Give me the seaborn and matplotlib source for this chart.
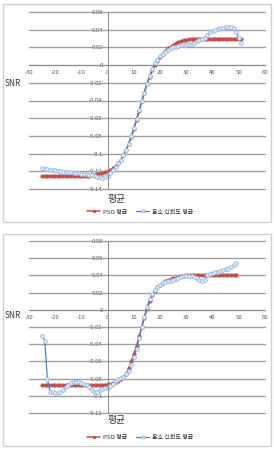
import numpy as np
import pandas as pd
import matplotlib
matplotlib.use("Agg")
import matplotlib.pyplot as plt
from matplotlib.patches import Rectangle
import seaborn as sns

# ============================================================
# 데이터
# ============================================================

top_x = list(range(-25, 52))
top_pso = [
    -0.125, -0.125, -0.125, -0.125, -0.125, -0.125, -0.125, -0.125, -0.125, -0.125,
    -0.125, -0.125, -0.125, -0.125, -0.125, -0.125, -0.125, -0.125, -0.125, -0.1245,
    -0.124, -0.1235, -0.123, -0.1222, -0.1213, -0.120, -0.1185, -0.1165, -0.114, -0.111,
    -0.107, -0.102, -0.096, -0.089, -0.081, -0.072, -0.062, -0.052, -0.041, -0.031,
    -0.021, -0.013, -0.006, 0.000, 0.005, 0.009, 0.013, 0.016, 0.019, 0.021,
    0.023, 0.0245, 0.026, 0.027, 0.028, 0.0285, 0.029, 0.0295, 0.0298, 0.030,
    0.030, 0.030, 0.030, 0.030, 0.030, 0.030, 0.030, 0.030, 0.030, 0.030,
    0.030, 0.030, 0.030, 0.030, 0.030, 0.030, 0.030,
]
top_phone = [
    -0.116, -0.117, -0.1175, -0.118, -0.1185, -0.119, -0.1195, -0.120, -0.1203, -0.1206,
    -0.121, -0.1213, -0.1216, -0.122, -0.1223, -0.1226, -0.123, -0.1235, -0.124, -0.1245,
    -0.125, -0.126, -0.127, -0.1272, -0.1265, -0.125, -0.122, -0.119, -0.115, -0.111,
    -0.107, -0.102, -0.096, -0.089, -0.080, -0.071, -0.061, -0.051, -0.041, -0.031,
    -0.021, -0.012, -0.004, 0.002, 0.006, 0.010, 0.013, 0.015, 0.017, 0.019,
    0.020, 0.021, 0.022, 0.0225, 0.023, 0.0232, 0.0235, 0.024, 0.025, 0.027,
    0.028, 0.029, 0.031, 0.034, 0.037, 0.039, 0.040, 0.041, 0.0415, 0.042,
    0.0425, 0.043, 0.043, 0.0415, 0.037, 0.031, 0.025,
]

bot_x = list(range(-25, 50))
bot_pso = [
    -0.088, -0.088, -0.088, -0.088, -0.088, -0.088, -0.088, -0.088, -0.088, -0.088,
    -0.088, -0.088, -0.088, -0.088, -0.088, -0.088, -0.088, -0.088, -0.088, -0.088,
    -0.088, -0.0878, -0.0876, -0.0873, -0.087, -0.0867, -0.0862, -0.0855, -0.0845, -0.083,
    -0.081, -0.0785, -0.075, -0.068, -0.060, -0.051, -0.042, -0.031, -0.020, -0.009,
    0.001, 0.010, 0.017, 0.022, 0.026, 0.029, 0.031, 0.033, 0.0345, 0.0355,
    0.0365, 0.0375, 0.038, 0.0388, 0.0395, 0.040, 0.040, 0.040, 0.040, 0.040,
    0.040, 0.040, 0.040, 0.040, 0.040, 0.040, 0.040, 0.040, 0.040, 0.040,
    0.040, 0.040, 0.040, 0.040, 0.040,
]
bot_phone = [
    -0.031, -0.036, -0.080, -0.095, -0.096, -0.097, -0.097, -0.096, -0.093, -0.090,
    -0.087, -0.085, -0.084, -0.0835, -0.084, -0.085, -0.086, -0.088, -0.090, -0.093,
    -0.095, -0.095, -0.093, -0.092, -0.091, -0.091, -0.089, -0.086, -0.083, -0.081,
    -0.079, -0.078, -0.075, -0.071, -0.064, -0.055, -0.045, -0.033, -0.020, -0.008,
    0.003, 0.012, 0.018, 0.023, 0.026, 0.029, 0.031, 0.032, 0.033, 0.034,
    0.035, 0.036, 0.037, 0.038, 0.039, 0.0395, 0.0395, 0.039, 0.038, 0.037,
    0.035, 0.033, 0.035, 0.040, 0.042, 0.043, 0.044, 0.0445, 0.045, 0.046,
    0.047, 0.048, 0.050, 0.052, 0.054,
]

series_names = ["PSO 평균", "음소 신뢰도 평균"]
x_ticks = list(range(-30, 61, 10))
top_y_ticks = [0.06, 0.04, 0.02, 0, -0.02, -0.04, -0.06, -0.08, -0.1, -0.12, -0.14]
bot_y_ticks = [0.08, 0.06, 0.04, 0.02, 0, -0.02, -0.04, -0.06, -0.08, -0.1, -0.12]

# ============================================================
# 기본 설정
# ============================================================

sns.set_style("white")
plt.rcParams["font.family"] = ["Noto Sans CJK KR", "DejaVu Sans"]
plt.rcParams["axes.unicode_minus"] = False

W, H = 274, 453
fig = plt.figure(figsize=(W / 100, H / 100), dpi=100)

RED = "#C0504D"
BLUE = "#4F81BD"
GRID = "#A0A0A0"


def px_rect(x0, y0, x1, y1):
    return [x0 / W, 1 - y1 / H, (x1 - x0) / W, (y1 - y0) / H]


def draw_panel(rect, box, x, pso, phone, yticks, snr_y, avg_y, leg_y):
    # 바깥 테두리
    fig.patches.append(Rectangle((box[0] / W, 1 - box[3] / H),
                                 (box[2] - box[0]) / W, (box[3] - box[1]) / H,
                                 transform=fig.transFigure, fill=False,
                                 edgecolor="#D0D0D0", linewidth=1.0))

    ax = fig.add_axes(rect)
    df = pd.DataFrame({"x": x, "pso": pso, "phone": phone})

    sns.lineplot(data=df, x="x", y="pso", ax=ax, color=RED, linewidth=1.1,
                 marker="o", markersize=2.5, markerfacecolor=RED,
                 markeredgecolor=RED, markeredgewidth=0.4, label=series_names[0])
    sns.lineplot(data=df, x="x", y="phone", ax=ax, color=BLUE, linewidth=0.9,
                 marker="o", markersize=2.7, markerfacecolor="#E3ECF7",
                 markeredgecolor="#95B8E0", markeredgewidth=0.6,
                 label=series_names[1])

    ax.set_xlim(-30, 60)
    ax.set_ylim(min(yticks), max(yticks))
    ax.set_xticks(x_ticks)
    ax.set_yticks(yticks)
    ax.set_xticklabels([f"{t:g}" for t in x_ticks])
    ax.set_yticklabels([f"{t:g}" for t in yticks])
    ax.grid(False)

    # 가로 눈금선
    for t in yticks:
        ax.axhline(t, color=GRID, linewidth=1.0, zorder=1, clip_on=False)

    for s in ["top", "right"]:
        ax.spines[s].set_visible(False)
    ax.spines["bottom"].set_position(("data", 0))
    ax.spines["left"].set_position(("data", 0))
    ax.spines["bottom"].set_color("#8C8C8C")
    ax.spines["left"].set_color("#8C8C8C")
    ax.spines["bottom"].set_linewidth(0.7)
    ax.spines["left"].set_linewidth(0.7)
    ax.tick_params(axis="both", labelsize=4.3, colors="#8C8C8C",
                   labelcolor="#555555", length=2, width=0.5, pad=1.5,
                   direction="out")
    ax.set_xlabel("")
    ax.set_ylabel("")
    ax.set_facecolor("none")

    fig.text(5 / W, 1 - snr_y / H, "SNR", fontsize=6, color="#333333",
             ha="left", va="center")
    fig.text(107 / W, 1 - avg_y / H, "평균", fontsize=7, color="#333333",
             ha="left", va="center")

    ax.legend(loc="center", bbox_to_anchor=(140 / W, 1 - leg_y / H),
              bbox_transform=fig.transFigure, ncol=2, frameon=False,
              fontsize=4.3, handlelength=2.2, columnspacing=1.5,
              handletextpad=0.4, markerscale=0.8)
    return ax


draw_panel(px_rect(29, 12, 265, 189), (3, 4, 271, 222),
           top_x, top_pso, top_phone, top_y_ticks, 83, 199, 212)
draw_panel(px_rect(29, 241, 265, 413), (3, 234, 271, 446),
           bot_x, bot_pso, bot_phone, bot_y_ticks, 316, 420, 437)

fig.savefig("out.png", dpi=100)
